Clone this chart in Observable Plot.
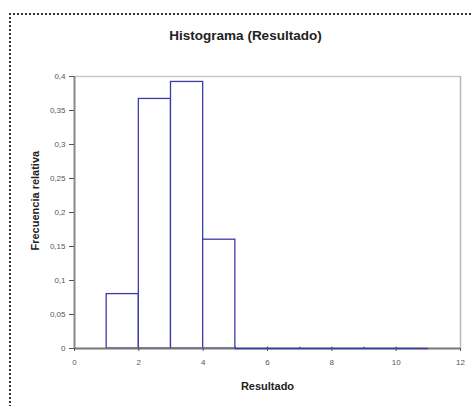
<!DOCTYPE html>
<html>
<head>
<meta charset="utf-8">
<script src="https://cdn.jsdelivr.net/npm/d3@7"></script>
<script src="https://cdn.jsdelivr.net/npm/@observablehq/plot@0.6"></script>
<style>
  html, body { margin: 0; padding: 0; background: #fff; }
  #wrap { position: relative; width: 472px; height: 406px; overflow: hidden; font-family: "Liberation Sans", Arial, sans-serif; }
  #frame { position: absolute; left: 9px; top: 13px; width: 600px; height: 600px; border-left: 2px dotted #333; border-top: 2px dotted #333; pointer-events: none; }
</style>
</head>
<body>
<div id="wrap"><div id="frame"></div></div>
<script>
const title = "Histograma (Resultado)";
const xLabel = "Resultado";
const yLabel = "Frecuencia relativa";
const binStart = [1, 2, 3, 4, 5, 6, 7, 8, 9, 10];
const binEnd   = [2, 3, 4, 5, 6, 7, 8, 9, 10, 11];
const freq     = [0.08, 0.367, 0.392, 0.16, 0, 0, 0, 0, 0, 0];
const xTicks = [0, 2, 4, 6, 8, 10, 12];
const yTicks = [0, 0.05, 0.1, 0.15, 0.2, 0.25, 0.3, 0.35, 0.4];
const xDomain = [0, 12];
const yDomain = [0, 0.4];

const bins = binStart.map((s, i) => ({x1: s, x2: binEnd[i], y: freq[i]}));
const zeroBins = bins.filter(d => d.y === 0);
const fmt = d => String(d).replace(".", ",");
const barColor = "#3b3ba6";

const chart = Plot.plot({
  width: 472,
  height: 406,
  marginLeft: 74,
  marginRight: 12,
  marginTop: 76,
  marginBottom: 58,
  style: {fontFamily: "'Liberation Sans', Arial, sans-serif", background: "transparent", overflow: "visible"},
  x: {type: "linear", domain: xDomain},
  y: {type: "linear", domain: yDomain},
  marks: [
    Plot.ruleY([yDomain[1]], {stroke: "#c8c8c8", strokeWidth: 1.5}),
    Plot.ruleX([xDomain[1]], {stroke: "#b8b8b8", strokeWidth: 1.5}),
    Plot.rectY(bins, {x1: "x1", x2: "x2", y: "y", fill: "white", stroke: barColor, strokeWidth: 1.3}),
    Plot.ruleY([0], {stroke: "#777", strokeWidth: 2}),
    Plot.ruleX([0], {stroke: "#888", strokeWidth: 2}),
    Plot.ruleY(zeroBins, {x1: "x1", x2: "x2", y: 0, stroke: barColor, strokeWidth: 1.3}),
    Plot.ruleX(zeroBins, {x: "x1", y1: 0, y2: 0.002, stroke: barColor, strokeWidth: 1.3}),
    Plot.axisY({ticks: yTicks, tickFormat: fmt, tickSize: 5, tickPadding: 4, fontSize: 8, fill: "#555", stroke: "#555", label: null}),
    Plot.axisX({ticks: xTicks, tickSize: 3, tickPadding: 8, fontSize: 8, fill: "#555", stroke: "#555", label: null}),
    Plot.text([title], {frameAnchor: "top", dx: -22, dy: -46, fontSize: 13.5, fontWeight: "bold", fill: "#222"}),
    Plot.text([xLabel], {frameAnchor: "bottom", dy: 41, fontSize: 11, fontWeight: "bold", fill: "#222"}),
    Plot.text([yLabel], {frameAnchor: "left", rotate: -90, dx: -39, dy: 38, fontSize: 11, fontWeight: "bold", fill: "#222"})
  ]
});
document.getElementById("wrap").prepend(chart);
</script>
</body>
</html>
